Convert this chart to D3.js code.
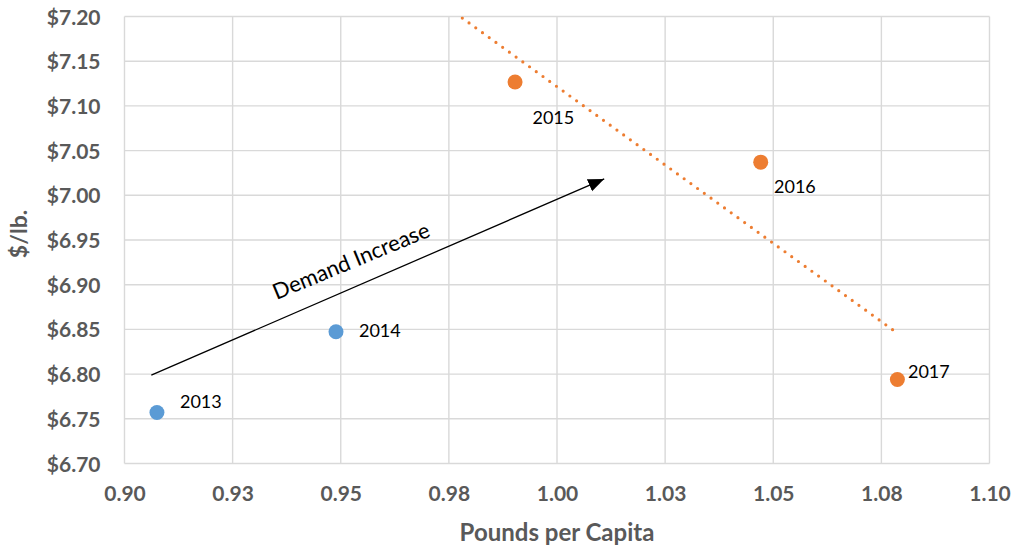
<!DOCTYPE html>
<html>
<head>
<meta charset="utf-8">
<script src="https://cdn.jsdelivr.net/npm/d3@7"></script>
<style>
  body { margin: 0; background: #fff; }
  svg text { font-family: Lato, "Open Sans", "Liberation Sans", sans-serif; }
</style>
</head>
<body>
<svg id="chart" width="1012" height="548"></svg>
<script>
// Per-capita consumption (lb) against price ($/lb), by year
const years  = ["2013", "2014", "2015", "2016", "2017"];
const pounds = [0.9075, 0.9489, 0.9903, 1.0471, 1.0787];
const prices = [6.757, 6.8474, 7.1267, 7.0371, 6.794];
const period = ["early", "early", "late", "late", "late"];

// Axis ticks and their printed labels
const xTicks = [0.900, 0.925, 0.950, 0.975, 1.000, 1.025, 1.050, 1.075, 1.100];
const xTickLabels = ["0.90", "0.93", "0.95", "0.98", "1.00", "1.03", "1.05", "1.08", "1.10"];
const yTicks = [6.70, 6.75, 6.80, 6.85, 6.90, 6.95, 7.00, 7.05, 7.10, 7.15, 7.20];
const yTickLabels = ["$6.70", "$6.75", "$6.80", "$6.85", "$6.90", "$6.95", "$7.00", "$7.05", "$7.10", "$7.15", "$7.20"];

// "Demand Increase" annotation arrow, in data units
const arrowStart = [0.9062, 6.7989];
const arrowEnd   = [1.0116, 7.0198];

// Linear trend of the later years is extended back to this x
const trendStartX = 0.975;

const points = years.map((y, i) => ({ year: y, x: pounds[i], y: prices[i], period: period[i] }));

// Label placement relative to each marker (pixels)
const labelOffset = {
  "2013": [23, -4.5], "2014": [23, 5.6], "2015": [17.4, 42],
  "2016": [13.3, 31], "2017": [10.6, -1]
};

const colors = { early: "#5B9BD5", late: "#ED7D31" };

const svg = d3.select("#chart");
const plot = { left: 124.5, right: 989.5, top: 16.5, bottom: 463.5 };

const x = d3.scaleLinear().domain([0.9, 1.1]).range([plot.left, plot.right]);
const y = d3.scaleLinear().domain([6.7, 7.2]).range([plot.bottom, plot.top]);

svg.append("defs").append("clipPath").attr("id", "plotClip")
  .append("rect")
  .attr("x", plot.left).attr("y", plot.top)
  .attr("width", plot.right - plot.left).attr("height", plot.bottom - plot.top);

// Gridlines
const grid = svg.append("g").attr("stroke", "#d9d9d9").attr("stroke-width", 1.4);
grid.selectAll("line.v").data(xTicks).join("line")
  .attr("class", "v")
  .attr("x1", d => x(d)).attr("x2", d => x(d))
  .attr("y1", plot.top).attr("y2", plot.bottom);
grid.selectAll("line.h").data(yTicks).join("line")
  .attr("class", "h")
  .attr("x1", plot.left).attr("x2", plot.right)
  .attr("y1", d => y(d)).attr("y2", d => y(d));

// Axes (labels only; domain and tick marks hidden)
const xAxis = d3.axisBottom(x).tickValues(xTicks)
  .tickFormat((d, i) => xTickLabels[i]).tickSize(0).tickPadding(22);
const yAxis = d3.axisLeft(y).tickValues(yTicks)
  .tickFormat((d, i) => yTickLabels[i]).tickSize(0).tickPadding(24);

const gx = svg.append("g").attr("transform", `translate(0,${plot.bottom})`).call(xAxis);
const gy = svg.append("g").attr("transform", `translate(${plot.left},0)`).call(yAxis);
[gx, gy].forEach(g => {
  g.select(".domain").remove();
  g.selectAll("text")
    .attr("fill", "#595959")
    .style("font-size", "21px")
    .style("font-weight", "bold")
    .style("font-family", "Lato, 'Open Sans', sans-serif");
});
gy.selectAll("text").attr("dy", "0.36em");
gx.selectAll("text").attr("dy", "0.72em");

// Axis titles
svg.append("text")
  .attr("x", (plot.left + plot.right) / 2).attr("y", 541)
  .attr("text-anchor", "middle")
  .attr("fill", "#595959").style("font-size", "24px").style("font-weight", "bold")
  .text("Pounds per Capita");
svg.append("text")
  .attr("transform", "translate(27,234) rotate(-90)")
  .attr("text-anchor", "middle")
  .attr("fill", "#595959").style("font-size", "23px").style("font-weight", "bold")
  .text("$/lb.");

// Least-squares trend line through the later years, dotted
const late = points.filter(p => p.period === "late");
const mx = d3.mean(late, p => p.x), my = d3.mean(late, p => p.y);
const slope = d3.sum(late, p => (p.x - mx) * (p.y - my)) / d3.sum(late, p => (p.x - mx) ** 2);
const trendY = v => my + slope * (v - mx);
const trendEndX = d3.max(late, p => p.x);

svg.append("line")
  .attr("clip-path", "url(#plotClip)")
  .attr("x1", x(trendStartX)).attr("y1", y(trendY(trendStartX)))
  .attr("x2", x(trendEndX)).attr("y2", y(trendY(trendEndX)))
  .attr("stroke", "#ED7D31").attr("stroke-width", 3.2)
  .attr("stroke-linecap", "round").attr("stroke-dasharray", "0 8.3");

// Annotation arrow
svg.select("defs").append("marker")
  .attr("id", "arrowHead")
  .attr("markerUnits", "userSpaceOnUse")
  .attr("markerWidth", 18).attr("markerHeight", 14)
  .attr("refX", 16).attr("refY", 6.5)
  .attr("orient", "auto")
  .append("path").attr("d", "M0,0 L16,6.5 L0,13 Z").attr("fill", "#000");

const ax1 = x(arrowStart[0]), ay1 = y(arrowStart[1]);
const ax2 = x(arrowEnd[0]), ay2 = y(arrowEnd[1]);
svg.append("line")
  .attr("x1", ax1).attr("y1", ay1).attr("x2", ax2 - 3).attr("y2", ay2 + 1.3)
  .attr("stroke", "#000").attr("stroke-width", 1.3)
  .attr("marker-end", "url(#arrowHead)");

const angle = Math.atan2(ay2 - ay1, ax2 - ax1) * 180 / Math.PI;
svg.append("text")
  .attr("transform", `translate(354,268) rotate(${angle + 1})`)
  .attr("text-anchor", "middle")
  .attr("fill", "#000").style("font-size", "22px")
  .text("Demand Increase");

// Markers
svg.selectAll("circle.pt").data(points).join("circle")
  .attr("class", "pt")
  .attr("cx", d => x(d.x)).attr("cy", d => y(d.y)).attr("r", 7.5)
  .attr("fill", d => colors[d.period]);

// Year labels
svg.selectAll("text.yr").data(points).join("text")
  .attr("class", "yr")
  .attr("x", d => x(d.x) + labelOffset[d.year][0])
  .attr("y", d => y(d.y) + labelOffset[d.year][1])
  .attr("fill", "#000").style("font-size", "18px")
  .text(d => d.year);
</script>
</body>
</html>
